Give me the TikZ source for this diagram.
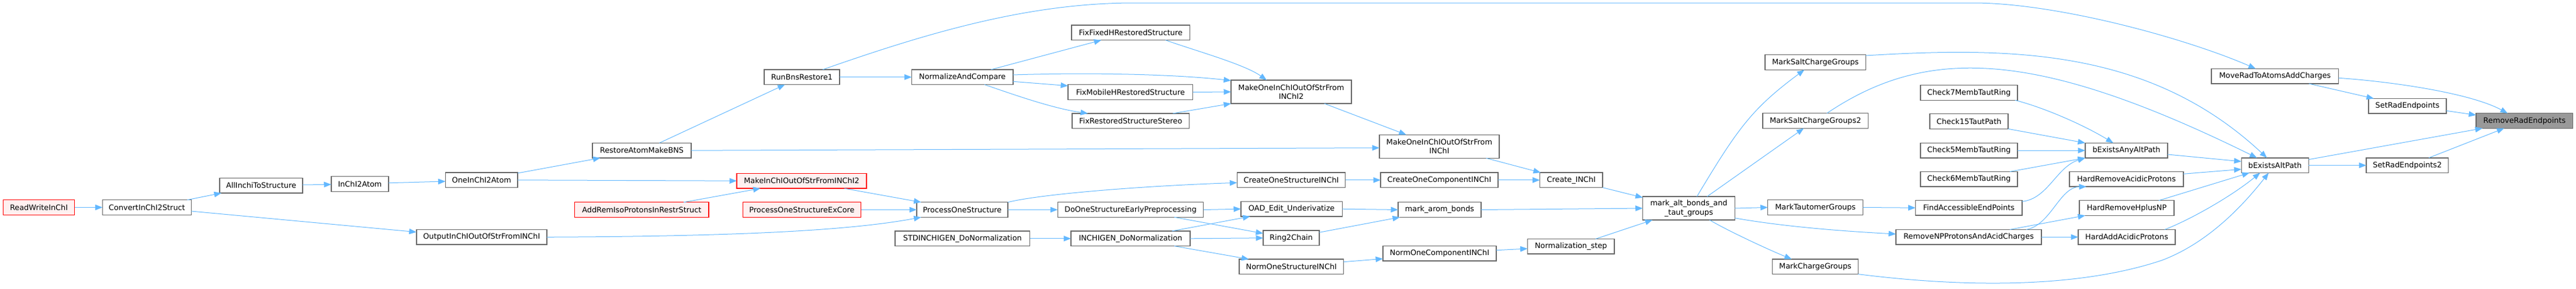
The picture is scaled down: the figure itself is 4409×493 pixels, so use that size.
\documentclass[tikz,border=0pt]{standalone}
\usepackage{fontspec}
\setmainfont{DejaVu Sans}
\usetikzlibrary{arrows.meta,calc}
\definecolor{edgeblue}{HTML}{63B8FF}
\definecolor{boxgray}{HTML}{666666}
\definecolor{redfill}{HTML}{FFF0F0}
\definecolor{curfill}{HTML}{999999}

\begin{document}
\begin{tikzpicture}[x=1pt,y=-1pt,
  fn/.style={draw=boxgray, line width=1.4pt, fill=white, minimum height=25.6pt, inner sep=0pt, outer sep=0pt, align=center, font=\fontsize{12.85}{15.3}\selectfont},
  fnred/.style={fn, draw=red, fill=redfill},
  fncur/.style={fn, fill=curfill},
  fntall/.style={minimum height=40pt},
  call/.style={draw=edgeblue, line width=1pt, -{Triangle[length=12.5pt,width=9.5pt]}}]
  \useasboundingbox (0,0) rectangle (4409,493);

  % callers, left to right
  \node[fnred, minimum width=122pt] (rwi) at (66.6,354.5) {ReadWriteInChI};
  \node[fn, minimum width=152pt] (cis) at (251.5,354.5) {ConvertInChI2Struct};
  \node[fn, minimum width=142pt] (aits) at (447,317.2) {AllInchiToStructure};
  \node[fn, minimum width=98pt] (i2a) at (616,314.5) {InChI2Atom};
  \node[fn, minimum width=123.5pt] (oi2a) at (824.3,307.8) {OneInChI2Atom};
  \node[fn, minimum width=223pt] (oios) at (824.3,405.3) {OutputInChIOutOfStrFromINChI};
  \node[fn, minimum width=169pt] (ramb) at (1098.5,257.2) {RestoreAtomMakeBNS};
  \node[fnred, minimum width=229.5pt] (aripr) at (1098.3,358.5) {AddRemIsoProtonsInRestrStruct};
  \node[fn, minimum width=129pt] (rbr) at (1372.5,131.8) {RunBnsRestore1};
  \node[fnred, minimum width=222pt] (mios2) at (1372,309.2) {MakeInChIOutOfStrFromINChI2};
  \node[fnred, minimum width=202pt] (posec) at (1372.5,358.5) {ProcessOneStructureExCore};
  \node[fn, minimum width=173.3pt] (nac) at (1647.2,131.8) {NormalizeAndCompare};
  \node[fn, minimum width=156pt] (pos) at (1647,358.5) {ProcessOneStructure};
  \node[fn, minimum width=230.5pt] (stddn) at (1647.3,407.8) {STDINCHIGEN\_DoNormalization};
  \node[fn, minimum width=202.6pt] (ffh) at (1935.3,55.8) {FixFixedHRestoredStructure};
  \node[fn, minimum width=213.7pt] (fmh) at (1934.9,157.5) {FixMobileHRestoredStructure};
  \node[fn, minimum width=200.5pt] (frss) at (1935.3,206.7) {FixRestoredStructureStereo};
  \node[fn, minimum width=249.5pt] (dosep) at (1935,358.5) {DoOneStructureEarlyPreprocessing};
  \node[fn, minimum width=204pt] (idn) at (1935,407.8) {INCHIGEN\_DoNormalization};
  \node[fn, fntall, minimum width=206pt] (moios2) at (2210,157) {MakeOneInChIOutOfStrFrom\\INChI2};
  \node[fn, minimum width=185.3pt] (cosi) at (2210,307.8) {CreateOneStructureINChI};
  \node[fn, minimum width=173.3pt] (oad) at (2210.6,357.2) {OAD\_Edit\_Underivatize};
  \node[fn, minimum width=96pt] (r2c) at (2210,406.8) {Ring2Chain};
  \node[fn, minimum width=178.6pt] (nosi) at (2210.3,455.8) {NormOneStructureINChI};
  \node[fn, fntall, minimum width=205pt] (moios) at (2463.5,250.3) {MakeOneInChIOutOfStrFrom\\INChI};
  \node[fn, minimum width=201pt] (coci) at (2463.5,307.8) {CreateOneComponentINChI};
  \node[fn, minimum width=142pt] (mab) at (2464,358.5) {mark\_arom\_bonds};
  \node[fn, minimum width=194pt] (noci) at (2464,433.2) {NormOneComponentINChI};
  \node[fn, minimum width=107.4pt] (ci) at (2689.3,307.8) {Create\_INChI};
  \node[fn, minimum width=148.5pt] (ns) at (2688.8,421.2) {Normalization\_step};
  \node[fn, fntall, minimum width=157.6pt] (mabtg) at (2890.5,356) {mark\_alt\_bonds\_and\\\_taut\_groups};
  \node[fn, minimum width=172.3pt] (mscg) at (3107.2,106.5) {MarkSaltChargeGroups};
  \node[fn, minimum width=180.3pt] (mscg2) at (3107.2,206.5) {MarkSaltChargeGroups2};
  \node[fn, minimum width=163pt] (mtg) at (3107.2,354.5) {MarkTautomerGroups};
  \node[fn, minimum width=146.6pt] (mcg) at (3107,455.8) {MarkChargeGroups};
  \node[fn, minimum width=166pt] (c7) at (3370,158.5) {Check7MembTautRing};
  \node[fn, minimum width=134pt] (c15) at (3370,207.5) {Check15TautPath};
  \node[fn, minimum width=166pt] (c5) at (3370,257.2) {Check5MembTautRing};
  \node[fn, minimum width=166pt] (c6) at (3370,306.2) {Check6MembTautRing};
  \node[fn, minimum width=182.4pt] (faep) at (3369.8,355.2) {FindAccessibleEndPoints};
  \node[fn, minimum width=249pt] (rnpac) at (3369.5,405.2) {RemoveNPProtonsAndAcidCharges};
  \node[fn, minimum width=141pt] (beaap) at (3639.5,257.2) {bExistsAnyAltPath};
  \node[fn, minimum width=195pt] (hrap) at (3639.5,306.2) {HardRemoveAcidicProtons};
  \node[fn, minimum width=162pt] (hrhnp) at (3640,355.5) {HardRemoveHplusNP};
  \node[fn, minimum width=166pt] (haap) at (3640,405.2) {HardAddAcidicProtons};
  \node[fn, minimum width=217.6pt] (mratac) at (3893.8,130.2) {MoveRadToAtomsAddCharges};
  \node[fn, minimum width=115pt] (beap) at (3893.8,282.6) {bExistsAltPath};
  \node[fn, minimum width=133pt] (sre) at (4120.5,181.2) {SetRadEndpoints};
  \node[fn, minimum width=140.5pt] (sre2) at (4120.3,282.6) {SetRadEndpoints2};
  \node[fncur, minimum width=165.6pt] (rre) at (4320.8,206.5) {RemoveRadEndpoints};

  % calls
  \draw[call] (rwi.east) -- (cis.west);
  \draw[call] ($(cis.north)+(69,0)$) -- ($(aits.south)+(-68,0)$);
  \draw[call] ($(cis.east)+(0,6.5)$) -- ($(oios.west)+(0,-8.6)$);
  \draw[call] ($(aits.east)+(0,-1.2)$) -- ($(i2a.west)+(0,0.8)$);
  \draw[call] ($(i2a.east)+(0,-1.8)$) -- ($(oi2a.west)+(0,2.2)$);
  \draw[call] ($(oi2a.north east)+(0,1)$) -- ($(ramb.south)+(-71,0)$);
  \draw[call] (oi2a.east) -- (mios2.west);
  \draw[call] ($(aripr.north)+(72,0)$) -- ($(mios2.south)+(-70.4,0)$);
  \draw[call] (oios.east) .. controls (1250,404) and (1450,395) .. ($(pos.south)+(-70.4,0)$);
  \draw[call] ($(ramb.north)+(30,0)$) -- ($(rbr.south)+(-29,0)$);
  \draw[call] (ramb.east) -- ($(moios.west)+(0,2.4)$);
  \draw[call] (rbr.east) -- (nac.west);
  \draw[call] ($(rbr.north)+(35.5,0)$) .. controls (1588,56) and (1760,5) .. (1941,5) -- (3377,5) .. controls (3520,5) and (3740,65) .. ($(mratac.north)+(-33,0)$);
  \draw[call] ($(nac.north)+(48.8,0)$) -- ($(ffh.south)+(-50.3,0)$);
  \draw[call] ($(nac.east)+(0,-3.8)$) .. controls (1850,124) and (2000,126) .. ($(moios2.north west)+(0,0.7)$);
  \draw[call] ($(nac.east)+(0,7.5)$) -- ($(fmh.west)+(0,-10.8)$);
  \draw[call] ($(nac.south)+(37.8,0)$) .. controls (1730,160) and (1800,185) .. ($(frss.north)+(-73.3,0)$);
  \draw[call] ($(ffh.south)+(59.5,0)$) .. controls (2050,88) and (2130,110) .. ($(moios2.north)+(-42,0)$);
  \draw[call] (fmh.east) -- (moios2.west);
  \draw[call] ($(frss.north)+(72.2,0)$) -- (moios2.south west);
  \draw[call] ($(mios2.south)+(72.8,0)$) -- ($(pos.north)+(-70.4,0)$);
  \draw[call] (posec.east) -- (pos.west);
  \draw[call] (pos.east) -- (dosep.west);
  \draw[call] (pos.north east) .. controls (1780,332) and (1950,318) .. ($(cosi.west)+(0,4.5)$);
  \draw[call] (dosep.east) -- (oad.west);
  \draw[call] ($(dosep.south)+(75,0)$) -- ($(r2c.west)+(0,-7.8)$);
  \draw[call] (stddn.east) -- (idn.west);
  \draw[call] ($(idn.north)+(70.8,0)$) -- ($(oad.south)+(-70.9,0)$);
  \draw[call] (idn.east) -- (r2c.west);
  \draw[call] ($(idn.south)+(75,0)$) -- ($(nosi.north)+(-72.8,0)$);
  \draw[call] ($(moios2.south)+(56.6,0)$) -- ($(moios.north)+(-56.6,0)$);
  \draw[call] ($(moios.south)+(80.2,0)$) -- ($(ci.north west)+(1.4,0)$);
  \draw[call] (cosi.east) -- (coci.west);
  \draw[call] (coci.east) -- (ci.west);
  \draw[call] (ci.south east) -- ($(mabtg.north west)+(0,1.7)$);
  \draw[call] (oad.east) -- (mab.west);
  \draw[call] ($(r2c.east)+(0,-9.5)$) -- ($(mab.south west)+(3,0)$);
  \draw[call] (mab.east) -- (mabtg.west);
  \draw[call] ($(nosi.east)+(0,-8.1)$) -- ($(noci.west)+(0,9.1)$);
  \draw[call] ($(noci.east)+(0,-5.5)$) -- ($(ns.west)+(0,3.8)$);
  \draw[call] ($(ns.north)+(42.2,0)$) -- ($(mabtg.south)+(-62.2,0)$);
  \draw[call] ($(mabtg.north)+(13.8,0)$) .. controls (2974,220) and (2998,186) .. ($(mscg.south)+(-18.9,0)$);
  \draw[call] ($(mabtg.north)+(31.2,0)$) -- ($(mscg2.south)+(-19.9,0)$);
  \draw[call] (mabtg.east) -- (mtg.west);
  \draw[call] ($(mabtg.east)+(0,16.7)$) .. controls (3050,387) and (3150,395) .. ($(rnpac.west)+(0,-5.2)$);
  \draw[call] ($(mabtg.south)+(35.5,0)$) .. controls (2960,396) and (3030,428) .. ($(mcg.north)+(-40.3,0)$);
  \draw[call] ($(mscg.east)+(0,-11.5)$) .. controls (3443,80) and (3680,83) .. ($(beap.north)+(-13.8,0)$);
  \draw[call] ($(mscg2.north)+(19.5,0)$) .. controls (3297,79) and (3483,83) .. ($(beap.north)+(-30.8,0)$);
  \draw[call] (mtg.east) -- (faep.west);
  \draw[call] (mcg.south east) .. controls (3350,490) and (3550,495) .. (3700,445) .. controls (3780,415) and (3840,350) .. ($(beap.south)+(-10.8,0)$);
  \draw[call] ($(c7.south)+(79,0)$) .. controls (3499,184) and (3567,214) .. ($(beaap.north)+(-22.5,0)$);
  \draw[call] (c15.south east) -- (beaap.north west);
  \draw[call] (c5.east) -- (beaap.west);
  \draw[call] ($(c6.north)+(70,0)$) -- (beaap.south west);
  \draw[call] ($(faep.north east)+(0,2)$) .. controls (3505,340) and (3520,285) .. (beaap.south west);
  \draw[call] ($(rnpac.north)+(98.5,0)$) .. controls (3510,385) and (3525,320) .. ($(hrap.south)+(-68.5,0)$);
  \draw[call] ($(rnpac.north)+(70.5,0)$) -- ($(hrhnp.south)+(-71,0)$);
  \draw[call] (rnpac.east) -- (haap.west);
  \draw[call] ($(beaap.east)+(0,6.8)$) -- ($(beap.west)+(0,-6.6)$);
  \draw[call] ($(hrap.east)+(0,-8.9)$) -- ($(beap.west)+(0,6.7)$);
  \draw[call] ($(hrhnp.north)+(55,0)$) -- ($(beap.south)+(-43.8,0)$);
  \draw[call] ($(haap.north)+(65,0)$) .. controls (3750,375) and (3820,335) .. ($(beap.south)+(-25.5,0)$);
  \draw[call] ($(beap.east)+(0,-9.9)$) -- ($(rre.south west)+(11,0)$);
  \draw[call] (beap.east) -- (sre2.west);
  \draw[call] ($(mratac.east)+(0,3.1)$) .. controls (4100,140) and (4230,160) .. ($(rre.north)+(-28.8,0)$);
  \draw[call] ($(mratac.south)+(58,0)$) -- ($(sre.north)+(-57.5,0)$);
  \draw[call] ($(sre.east)+(0,8.1)$) -- ($(rre.west)+(0,-9.8)$);
  \draw[call] ($(sre2.north)+(36.7,0)$) -- ($(rre.south)+(-34.8,0)$);
\end{tikzpicture}
\end{document}
